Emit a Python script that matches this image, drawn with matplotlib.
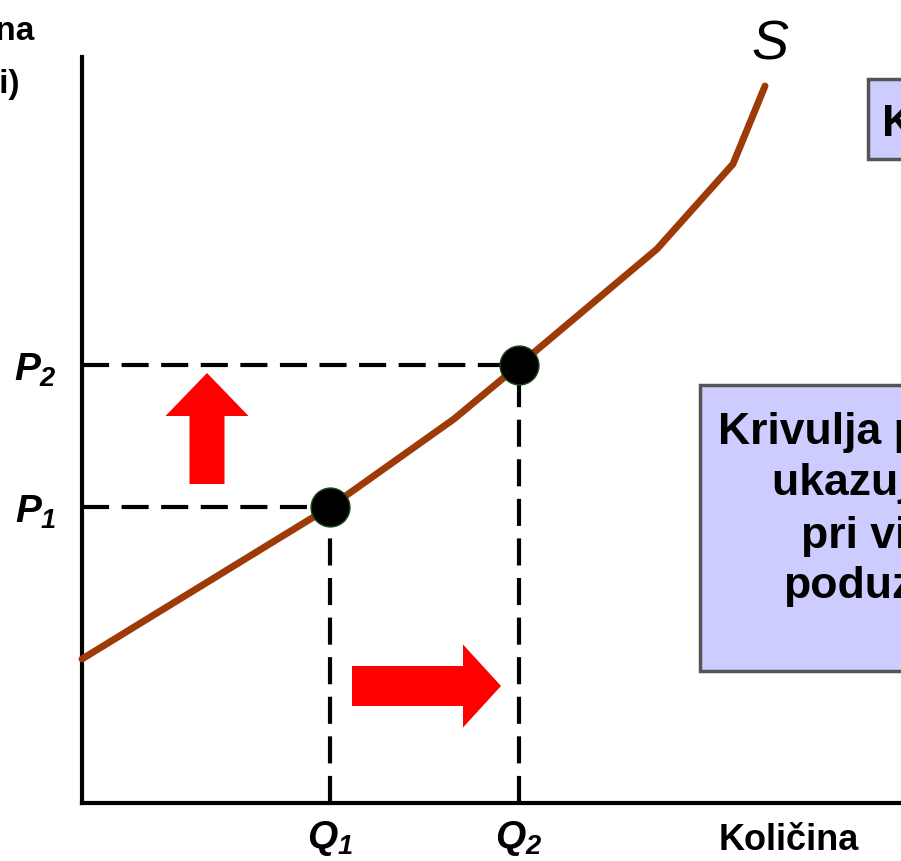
import numpy as np
import matplotlib.pyplot as plt
from matplotlib.patches import Rectangle, FancyArrow

plt.rcParams['font.family'] = ['Liberation Sans', 'DejaVu Sans']
plt.rcParams['mathtext.fontset'] = 'custom'
plt.rcParams['mathtext.it'] = 'Liberation Sans:italic:bold'
plt.rcParams['mathtext.rm'] = 'Liberation Sans:italic:bold'

# supply curve (quantity, price)
supply_q = [0.0, 18.1, 24.8, 37.2, 43.7, 57.5, 65.1, 68.3]
supply_p = [14.4, 25.5, 29.6, 38.4, 43.8, 55.4, 63.9, 71.7]

# the two marked points on the curve
point_q = [24.8, 43.7]
point_p = [29.6, 43.8]
q_labels = ['$Q_1$', '$Q_2$']
p_labels = ['$P_1$', '$P_2$']

brown = '#9E3A08'
box_face = '#CCCCFF'
box_edge = '#555555'

fig = plt.figure(figsize=(9.01, 8.62), dpi=100)
ax = fig.add_axes([0, 0, 1, 1])
ax.set_xlim(-8.2, 81.9)
ax.set_ylim(-5.8, 80.4)

# axes as two spines crossing at the origin
for side in ['top', 'right']:
    ax.spines[side].set_visible(False)
ax.spines['left'].set_position(('data', 0))
ax.spines['bottom'].set_position(('data', 0))
ax.spines['left'].set_bounds(0, 74.6)
ax.spines['bottom'].set_bounds(0, 81.9)
ax.spines['left'].set_linewidth(3)
ax.spines['bottom'].set_linewidth(3)

ax.set_xticks(point_q)
ax.set_xticklabels(q_labels, fontsize=28)
ax.set_yticks(point_p)
ax.set_yticklabels(p_labels, fontsize=28)
ax.tick_params(axis='x', length=0, pad=11)
ax.tick_params(axis='y', length=0, pad=18)

# dashed guides to the axes
for q, p in zip(point_q, point_p):
    ax.plot([0, q], [p, p], color='black', lw=3, ls=(0, (6.5, 3)), zorder=2)
    ax.plot([q, q], [0, p], color='black', lw=3, ls=(0, (6.5, 3)), zorder=2)

ax.plot(supply_q, supply_p, color=brown, lw=5, solid_capstyle='round', zorder=3)
ax.plot(point_q, point_p, 'o', color='black', ms=28, mec='#1E4A1E', mew=1, zorder=4)

ax.text(68.8, 75.8, 'S', fontsize=40, style='italic', ha='center', va='center')

# red arrows: price up, quantity right
ax.add_patch(FancyArrow(12.5, 31.9, 0, 11.1, width=3.5, head_width=8.3,
                        head_length=4.3, length_includes_head=True,
                        color='red', lw=0, zorder=3))
ax.add_patch(FancyArrow(27.0, 11.7, 14.9, 0, width=4.0, head_width=8.3,
                        head_length=3.8, length_includes_head=True,
                        color='red', lw=0, zorder=3))

# axis titles (cut off by the frame in the original)
ax.text(-4.7, 76.4, 'Cijena', fontsize=24, fontweight='bold', ha='right', va='baseline')
ax.text(-6.3, 71.1, '(po jedinici)', fontsize=24, fontweight='bold', ha='right', va='baseline')
ax.text(70.7, -4.6, 'Količina', fontsize=26, fontweight='bold', ha='center', va='baseline')

# note boxes on the right
ax.add_patch(Rectangle((78.6, 64.4), 30, 8.0, facecolor=box_face,
                       edgecolor=box_edge, lw=2.5, zorder=1, clip_on=False))
ax.text(80.0, 68.0, 'Kretanje duž krivulje ponude', fontsize=32, fontweight='bold',
        ha='left', va='center', zorder=2)

ax.add_patch(Rectangle((61.8, 13.2), 40, 28.6, facecolor=box_face,
                       edgecolor=box_edge, lw=2.5, zorder=1, clip_on=False))
ax.text(80.4, 39.2, 'Krivulja ponude\nukazuje da\npri višoj\npoduzeća',
        fontsize=32, fontweight='bold', ha='center', va='top',
        multialignment='center', linespacing=1.3, zorder=2)

fig.savefig('out.png', dpi=100)
